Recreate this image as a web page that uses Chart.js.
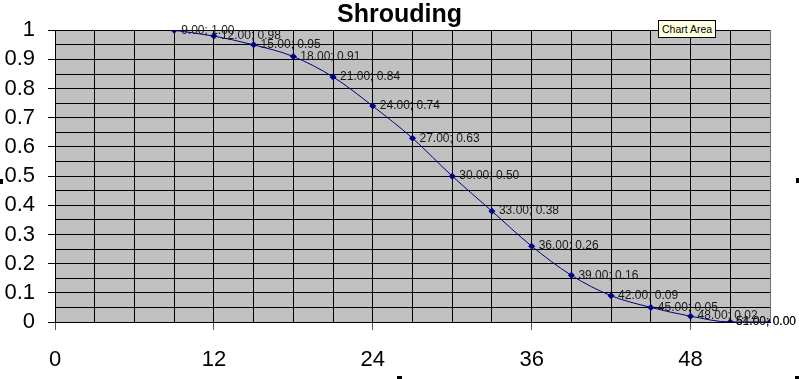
<!DOCTYPE html>
<html>
<head>
<meta charset="utf-8">
<title>Shrouding</title>
<script src="https://cdn.jsdelivr.net/npm/chart.js@4/dist/chart.umd.min.js"></script>
<style>
  html, body { margin: 0; padding: 0; background: #fff; }
  #wrap { position: relative; width: 799px; height: 379px; overflow: hidden; }
  .handle { position: absolute; width: 5px; height: 5px; background: #000; }
  #tip {
    position: absolute; left: 658px; top: 20px; height: 16px; padding: 0 3px;
    background: #ffffe1; border: 1px solid #000;
    font: 10.5px "Liberation Sans", Arial, sans-serif; line-height: 16px; color: #000;
  }
</style>
</head>
<body>
<div id="wrap">
  <canvas id="chart" width="799" height="379"></canvas>
  <div id="tip">Chart Area</div>
  <div class="handle" style="left:-2px; top:179px;"></div>
  <div class="handle" style="left:796px; top:178px;"></div>
  <div class="handle" style="left:397px; top:376px;"></div>
  <div class="handle" style="left:795px; top:376px;"></div>
</div>
<script>
  // chart data
  var xValues = [9, 12, 15, 18, 21, 24, 27, 30, 33, 36, 39, 42, 45, 48, 51, 54];
  var yValues = [1.00, 0.98, 0.95, 0.91, 0.84, 0.74, 0.63, 0.50, 0.38, 0.26, 0.16, 0.09, 0.05, 0.02, 0.00, 0.00];
  var xTickLabels = [0, 12, 24, 36, 48];
  var yTickLabels = ['0', '0.1', '0.2', '0.3', '0.4', '0.5', '0.6', '0.7', '0.8', '0.9', '1'];

  var FONT = "'Liberation Sans', Arial, sans-serif";
  var NAVY = '#000080';

  var points = [];
  for (var i = 0; i < xValues.length; i++) {
    points.push({ x: xValues[i], y: yValues[i] });
  }

  // grey plot background
  var plotBackground = {
    id: 'plotBackground',
    beforeDraw: function(chart) {
      var a = chart.chartArea;
      var ctx = chart.ctx;
      ctx.save();
      ctx.fillStyle = '#c0c0c0';
      ctx.fillRect(a.left, a.top, a.right - a.left, a.bottom - a.top);
      ctx.restore();
    }
  };

  // "x; y" labels to the right of each point
  var pointLabels = {
    id: 'pointLabels',
    afterDatasetsDraw: function(chart) {
      var ctx = chart.ctx;
      var meta = chart.getDatasetMeta(0);
      ctx.save();
      ctx.font = '12px ' + FONT;
      ctx.fillStyle = '#1a1a1a';
      ctx.textBaseline = 'middle';
      meta.data.forEach(function(pt, i) {
        var text = xValues[i].toFixed(2) + '; ' + yValues[i].toFixed(2);
        var w = ctx.measureText(text).width;
        var x = pt.x + 7;
        if (x + w > chart.width - 3) x = chart.width - 3 - w;
        ctx.fillText(text, x, pt.y);
      });
      ctx.restore();
    }
  };

  function yLabel(v) {
    var n = Math.round(v * 100);
    if (n % 10 !== 0) return '';
    return yTickLabels[n / 10];
  }

  function xLabel(v) {
    return xTickLabels.indexOf(v) >= 0 ? String(v) : '';
  }

  new Chart(document.getElementById('chart'), {
    type: 'line',
    data: {
      datasets: [{
        data: points,
        borderColor: NAVY,
        borderWidth: 1,
        backgroundColor: NAVY,
        pointStyle: 'rectRot',
        pointRadius: 3.5,
        pointBorderWidth: 0,
        cubicInterpolationMode: 'monotone'
      }]
    },
    options: {
      responsive: false,
      animation: false,
      events: [],
      layout: { padding: 0 },
      plugins: {
        legend: { display: false },
        tooltip: { enabled: false },
        title: {
          display: true,
          text: 'Shrouding',
          color: '#000',
          font: { family: FONT, size: 25, weight: 'bold', lineHeight: 1.05 },
          padding: { top: 2, bottom: 2 }
        }
      },
      scales: {
        x: {
          type: 'linear',
          min: 0,
          max: 54,
          border: { color: '#000', width: 1 },
          grid: {
            color: function(c) { return c.tick && c.tick.value === 54 ? '#707070' : '#000'; },
            lineWidth: 1,
            tickLength: 8,
            tickColor: function(c) { return c.tick && c.tick.value % 12 === 0 ? '#555' : 'rgba(0,0,0,0)'; }
          },
          ticks: {
            stepSize: 3,
            autoSkip: false,
            maxRotation: 0,
            padding: 17,
            color: '#000',
            font: { family: FONT, size: 22 },
            callback: xLabel
          },
          afterFit: function(scale) { scale.height = 57; }
        },
        y: {
          min: 0,
          max: 1,
          border: { color: '#000', width: 1 },
          grid: {
            color: '#000',
            lineWidth: 1,
            tickLength: 7,
            tickColor: function(c) { return c.tick && Math.round(c.tick.value * 100) % 10 === 0 ? '#000' : 'rgba(0,0,0,0)'; }
          },
          ticks: {
            stepSize: 0.05,
            autoSkip: false,
            padding: 13,
            color: '#000',
            font: { family: FONT, size: 22 },
            callback: yLabel
          },
          afterFit: function(scale) { scale.width = 55; }
        },
        // empty right axis, only keeps the white strip right of the plot
        yRight: {
          position: 'right',
          min: 0,
          max: 1,
          grid: { display: false },
          border: { display: false },
          ticks: { display: false },
          afterFit: function(scale) { scale.width = 29; }
        }
      }
    },
    plugins: [plotBackground, pointLabels]
  });
</script>
</body>
</html>
